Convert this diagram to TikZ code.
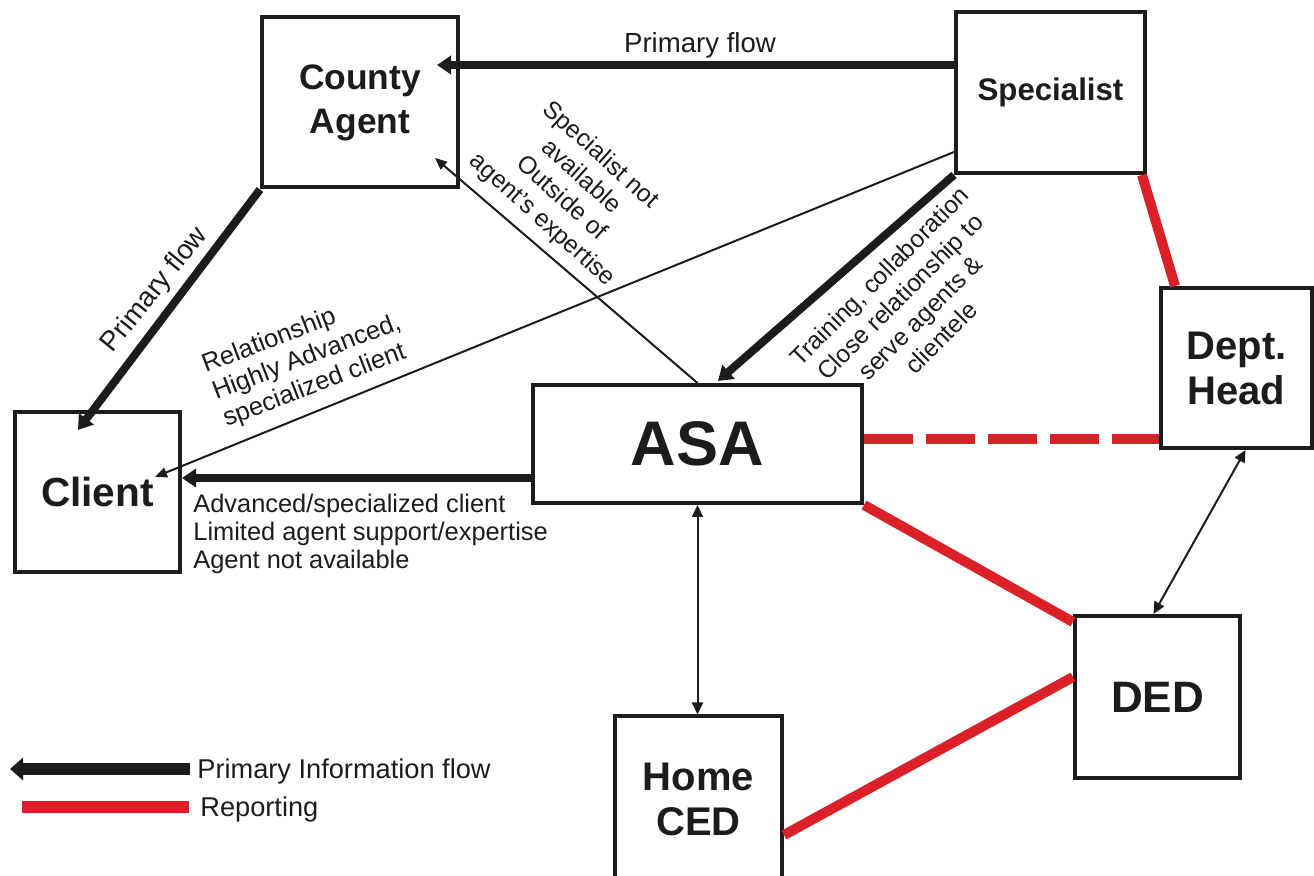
\documentclass[tikz,border=0pt]{standalone}
\usepackage{fontspec}
\setmainfont{Liberation Sans}
\usetikzlibrary{arrows.meta,calc}
\definecolor{ink}{RGB}{28,28,28}
\definecolor{rep}{RGB}{220,32,40}
\begin{document}
\begin{tikzpicture}[x=0.5pt,y=-0.5pt,
  box/.style={draw=ink, line width=2pt, inner sep=0pt, align=center, text=ink},
  flow/.style={draw=ink, line width=4pt, -{Triangle[length=7pt,width=9pt]}},
  info/.style={draw=ink, line width=1pt, -{Triangle[length=6pt,width=5pt]}},
  both/.style={draw=ink, line width=1pt, {Triangle[length=6pt,width=5.5pt]}-{Triangle[length=6pt,width=5.5pt]}},
  report/.style={draw=rep, line width=5pt},
  lab/.style={text=ink, font=\fontsize{12.3}{14.5}\selectfont, align=center, inner sep=0pt}]
\useasboundingbox (0,0) rectangle (1314,876);
\clip (0,0) rectangle (1314,876);

% boxes
\node[box, minimum width=98pt, minimum height=85pt, font=\bfseries\fontsize{17.7}{22}\selectfont] (ca) at (360,102.5) {County\\Agent};
\node[box, minimum width=94.5pt, minimum height=80.5pt, font=\bfseries\fontsize{15.6}{18}\selectfont] (sp) at (1050.5,92.5) {Specialist};
\node[box, minimum width=82.5pt, minimum height=80pt, font=\bfseries\fontsize{20.3}{24}\selectfont] (cl) at (97.5,492) {Client};
\node[box, minimum width=164.5pt, minimum height=59pt, font=\bfseries\fontsize{31.5}{36}\selectfont] (asa) at (697.5,444) {ASA};
\node[box, minimum width=75.5pt, minimum height=80pt, font=\bfseries\fontsize{20}{22.5}\selectfont] (dh) at (1236.5,368) {Dept.\\Head};
\node[box, minimum width=82.5pt, minimum height=81pt, font=\bfseries\fontsize{22}{24}\selectfont] (ded) at (1157.5,697) {DED};
\node[box, minimum width=83.5pt, minimum height=82.5pt, font=\bfseries\fontsize{20}{22.5}\selectfont] (hc) at (698.5,799) {Home\\CED};

% information flow
\draw[flow] ([yshift=13.75pt]sp.west) -- ($(ca.center)+(77,-37.5)$);
\draw[flow] (ca.south west) -- ($(cl.center)+(-19.5,-62)$);
\draw[info] ([yshift=-29.75pt]sp.west) -- ($(cl.center)+(57.5,-15)$);
\draw[info] (asa.north) -- ($(ca.center)+(75,55.5)$);
\draw[flow] (sp.south west) -- ($(asa.north)+(20.5,-2)$);
\draw[flow] ([yshift=-17pt]asa.west) -- ([yshift=7pt]cl.east);
\draw[both] (asa.south) -- (asa.south |- hc.north);
\draw[both] ([xshift=4.5pt]dh.south) -- ([xshift=-2pt]ded.north);

% reporting
\draw[report] ([xshift=-2.5pt]sp.south east) -- ([xshift=8pt]dh.north west);
\draw[report, dash pattern=on 24.5pt off 6.5pt] ([yshift=2.5pt]asa.east) -- ([yshift=-35.5pt]dh.west);
\draw[report] (asa.south east) -- ([yshift=-4pt]ded.north west);
\draw[report] ([yshift=10pt]ded.west) -- ([yshift=-18pt]hc.east);

% labels
\node[lab, font=\fontsize{13.8}{16}\selectfont] (l1) at (700,45) {Primary flow};
\node[lab, font=\fontsize{13.8}{16}\selectfont, rotate=51] (l2) at (155,290) {Primary flow};
\node[lab, align=left, rotate=21, font=\fontsize{12.8}{14.5}\selectfont] (l3) at (307,358) {Relationship\\Highly Advanced,\\specialized client};
\node[lab, rotate=-42] (l4) at (571,188) {Specialist not\\available\\Outside of\\agent's expertise};
\node[lab, rotate=45] (l5) at (910,307) {Training, collaboration\\Close relationship to\\serve agents \&\\clientele};
\node[lab, align=left, anchor=north west, font=\fontsize{12.7}{14}\selectfont] (l6) at (193,494) {Advanced/specialized client\\Limited agent support/expertise\\Agent not available};

% legend
\coordinate (lgA) at (190,769);
\coordinate (lgB) at (10,769);
\draw[draw=ink, line width=6pt, -{Triangle[length=6.5pt,width=11pt]}] (lgA) -- (lgB);
\node[lab, anchor=west, font=\fontsize{13.6}{16}\selectfont] (lg1) at (197,771) {Primary Information flow};
\coordinate (lgC) at (22,807);
\coordinate (lgD) at (189,807);
\draw[draw=rep, line width=6pt] (lgC) -- (lgD);
\node[lab, anchor=west, font=\fontsize{13.6}{16}\selectfont] (lg2) at (200,809) {Reporting};
\end{tikzpicture}
\end{document}
